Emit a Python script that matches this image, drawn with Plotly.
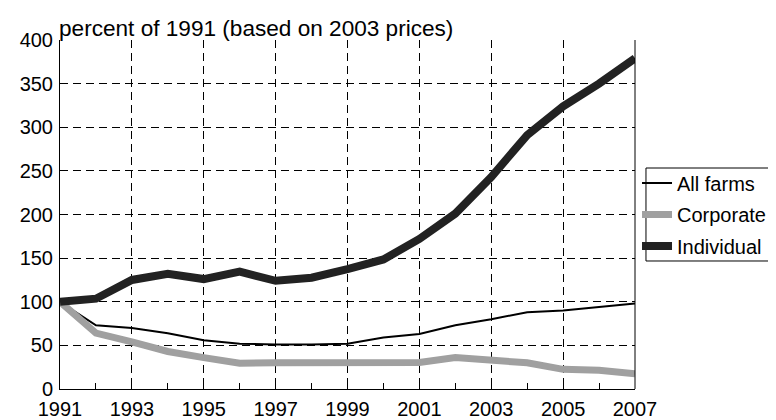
import plotly.graph_objects as go

years = list(range(1991, 2008))
all_farms = [100, 73, 70, 64, 56, 52, 51, 51, 52, 59, 63, 73, 80, 88, 90, 94, 98]
corporate = [100, 64, 54, 43, 36, 29.5, 30, 30, 31, 32, 30.5, 36, 32.5, 30, 22.5, 21.5, 17.5]
individual = [100, 103.5, 125, 132, 126, 134.5, 124, 127.5, 137.5, 148.5, 172, 201, 243, 291, 324, 350, 379]

FONT = "Liberation Sans, Arial, sans-serif"

fig = go.Figure()
fig.add_trace(go.Scatter(x=years, y=all_farms, mode="lines", name="All farms", legendgroup="a",
                         line=dict(color="#000000", width=2)))
fig.add_trace(go.Scatter(x=years, y=corporate, mode="lines", name="Corporate", legendgroup="c",
                         line=dict(color="#a0a0a0", width=7)))
fig.add_trace(go.Scatter(x=years, y=individual, mode="lines", name="Individual", legendgroup="i",
                         line=dict(color="#222222", width=8)))

fig.update_layout(
    width=776, height=420,
    margin=dict(l=52, r=149, t=32, b=39, autoexpand=False),
    paper_bgcolor="white", plot_bgcolor="white",
    font=dict(family=FONT, size=20, color="#000000"),
    showlegend=True,
    legend=dict(x=1.0035, y=0.6464, xanchor="left", yanchor="top",
                borderwidth=0, bgcolor="rgba(0,0,0,0)",
                font=dict(size=20), itemwidth=30, tracegroupgap=2.5),
    annotations=[dict(text="percent of 1991 (based on 2003 prices)", xref="paper", yref="paper",
                      x=0, y=1, xanchor="left", yanchor="bottom", showarrow=False,
                      font=dict(size=22.6), xshift=-3, yshift=-3)],
    shapes=[dict(type="line", xref="paper", yref="paper", x0=1, x1=1, y0=0, y1=1,
                 line=dict(color="#000000", width=1)),
            dict(type="rect", xref="paper", yref="paper", x0=1.0191, x1=1.2435, y0=0.3668, y1=0.6332,
                 line=dict(color="#000000", width=1), fillcolor="rgba(0,0,0,0)")],
)
fig.update_xaxes(range=[1991, 2007], tick0=1991, dtick=2, ticks="inside", ticklen=6,
                 tickcolor="#000000", showline=True, linecolor="#000000", linewidth=1,
                 showgrid=True, gridcolor="#000000", gridwidth=1, griddash="8px,5px",
                 minor=dict(dtick=1, tick0=1991, ticks="inside", ticklen=6, tickcolor="#000000", showgrid=False),
                 zeroline=False, tickfont=dict(size=20), ticklabelstandoff=2,
                 automargin=False, fixedrange=True)
fig.update_yaxes(range=[0, 400], dtick=50, ticks="", showline=True, linecolor="#000000", linewidth=1,
                 showgrid=True, gridcolor="#000000", gridwidth=1, griddash="8px,5px",
                 zeroline=False, tickfont=dict(size=20), ticklabelstandoff=2,
                 automargin=False, fixedrange=True)

fig.write_html("out.html")
